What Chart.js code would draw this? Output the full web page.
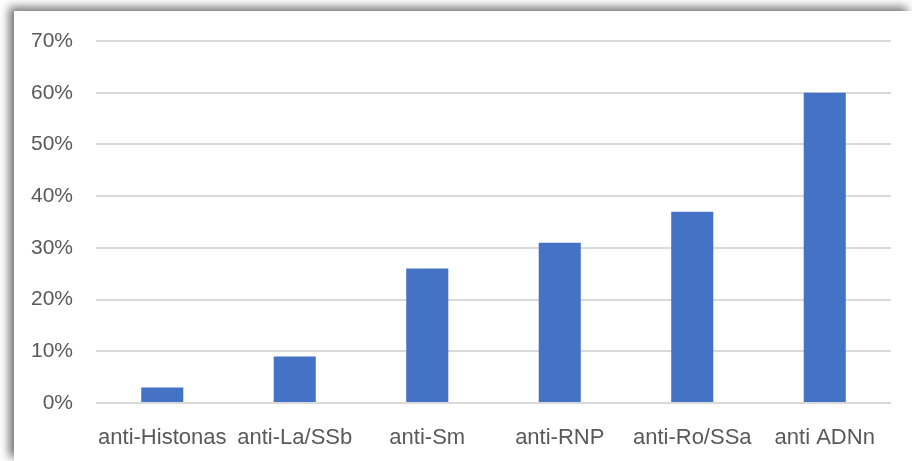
<!DOCTYPE html>
<html>
<head>
<meta charset="utf-8">
<script src="https://cdn.jsdelivr.net/npm/chart.js@4/dist/chart.umd.min.js"></script>
<style>
  html, body { margin: 0; padding: 0; background: #fff; overflow: hidden; }
  .frame {
    position: absolute; left: 14px; top: 11px; width: 898px; height: 450px;
    background: #fff;
    box-shadow: -5px -4px 9px rgba(0, 0, 0, 0.55);
  }
</style>
</head>
<body>
<div class="frame"><canvas id="chart" width="898" height="450"></canvas></div>
<script>
const categories = ["anti-Histonas", "anti-La/SSb", "anti-Sm", "anti-RNP", "anti-Ro/SSa", "anti ADNn"];
const values = [3, 9, 26, 31, 37, 60];
const yTicks = [0, 10, 20, 30, 40, 50, 60, 70];

const textColor = "#595959";
const fontFamily = "'Liberation Sans', Arial, sans-serif";

const ctx = document.getElementById("chart").getContext("2d");
new Chart(ctx, {
  type: "bar",
  data: {
    labels: categories,
    datasets: [
      {
        data: values,
        backgroundColor: "#4472C4",
        borderWidth: 0,
        barPercentage: 0.635,
        categoryPercentage: 0.5,
      },
    ],
  },
  options: {
    responsive: false,
    animation: false,
    layout: { padding: { top: 30, right: 21, left: 0, bottom: 0 } },
    plugins: { legend: { display: false }, tooltip: { enabled: false } },
    scales: {
      x: {
        grid: { display: false, drawTicks: false },
        border: { display: false },
        ticks: { color: textColor, font: { family: fontFamily, size: 22 }, padding: 22, maxRotation: 0, autoSkip: false },
        afterFit: (axis) => { axis.height = 58; },
      },
      y: {
        min: 0,
        max: 70,
        afterBuildTicks: (axis) => { axis.ticks = yTicks.map((v) => ({ value: v })); },
        grid: { color: "#D9D9D9", lineWidth: 2, drawTicks: false },
        border: { display: false },
        ticks: { color: textColor, font: { family: fontFamily, size: 21 }, padding: 23, callback: (v) => v + "%" },
        afterFit: (axis) => {
          axis.width = 82;
          axis.paddingTop = 0;
          axis.paddingBottom = 0;
        },
      },
    },
  },
});
</script>
</body>
</html>
